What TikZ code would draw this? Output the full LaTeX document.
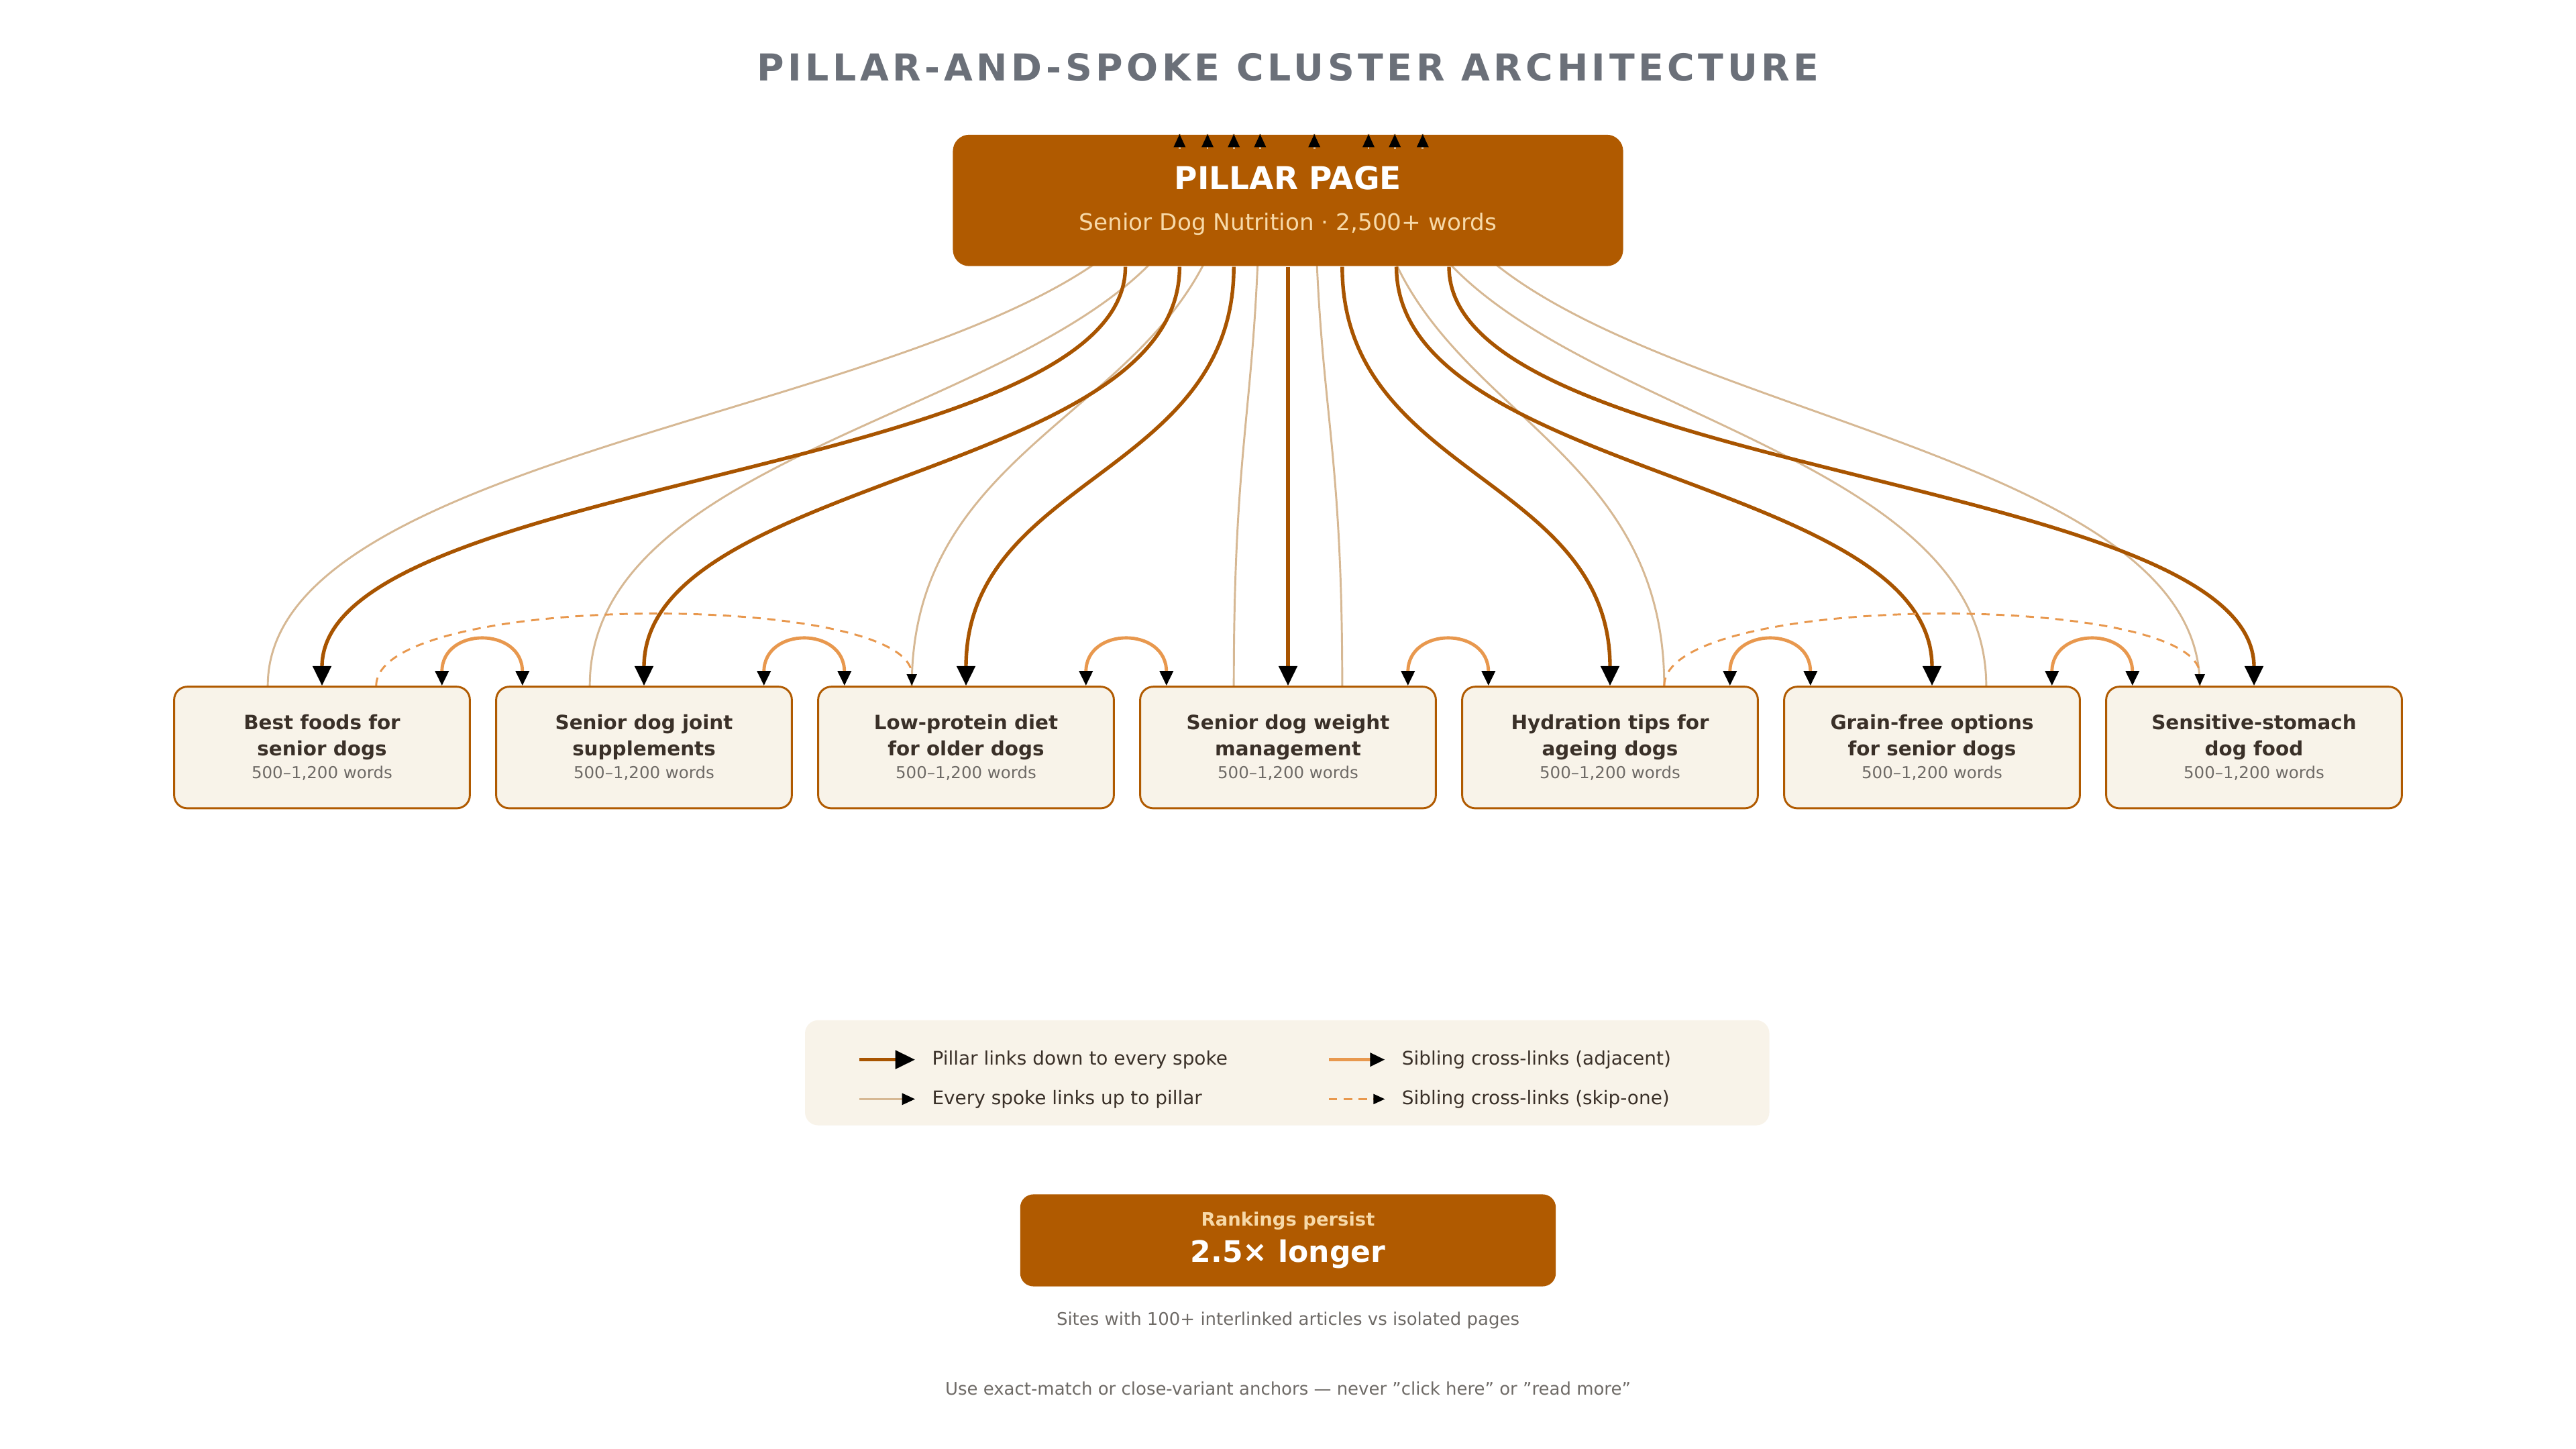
\documentclass[tikz,border=0pt]{standalone}
\usepackage{fontspec}
\setmainfont{DejaVu Sans}
\usetikzlibrary{arrows.meta, positioning}
\pgfdeclarelayer{background}
\pgfsetlayers{background,main}

\definecolor{pillarbrown}{HTML}{B05A00}
\definecolor{downbrown}{HTML}{A85400}
\definecolor{uptan}{HTML}{D6B894}
\definecolor{siborange}{HTML}{E8984E}
\definecolor{cream}{HTML}{F8F3E9}
\definecolor{titlegray}{HTML}{6B7079}
\definecolor{inkdark}{HTML}{3A3028}
\definecolor{wordgray}{HTML}{6E6A66}
\definecolor{palepeach}{HTML}{F7D9A8}

\tikzset{
	spokebox/.style = {draw = pillarbrown, line width = 0.6pt, fill = cream, rounded corners = 4pt,
		minimum width = 90pt, minimum height = 37pt, align = center, text = inkdark,
		font = \fontsize{6}{8}\selectfont\bfseries},
	downlink/.style = {draw = downbrown, line width = 1.1pt, -{Triangle[length = 6pt, width = 5.5pt, color = black]}},
	uplink/.style   = {draw = uptan, line width = 0.6pt},
	uptip/.style    = {-{Triangle[length = 4pt, width = 3.5pt, color = black]}},
	siblink/.style  = {draw = siborange, line width = 1pt,
		{Triangle[length = 4.5pt, width = 4pt, color = black]}-{Triangle[length = 4.5pt, width = 4pt, color = black]}},
	skiplink/.style = {draw = siborange, line width = 0.6pt, dash pattern = on 2.5pt off 2pt,
		-{Triangle[length = 3.5pt, width = 3pt, color = black]}},
	legtext/.style  = {anchor = west, text = inkdark, font = \fontsize{5.7}{7}\selectfont, inner sep = 0pt}
}

\begin{document}
\begin{tikzpicture}[x = 0.5pt, y = -0.5pt]

	% Page frame

	\useasboundingbox (0, 0) rectangle (1568, 882);

	% Title

	\node (title) at (784, 41) {\fontsize{11.3}{13}\selectfont\bfseries\addfontfeatures{LetterSpace = 10}\color{titlegray}PILLAR-AND-SPOKE CLUSTER ARCHITECTURE};

	% Pillar and spokes

	\node (pillar) [fill = pillarbrown, rounded corners = 5pt, minimum width = 204pt, minimum height = 40pt, align = center] at (784, 122)
		{\fontsize{9.6}{10}\selectfont\bfseries\color{white}PILLAR PAGE\\[0.5pt]
		 \fontsize{7}{8}\selectfont\color{palepeach}Senior Dog Nutrition · 2,500+ words};

	\foreach \i/\name in {1/{Best foods for\\senior dogs}, 2/{Senior dog joint\\supplements}, 3/{Low-protein diet\\for older dogs},
		4/{Senior dog weight\\management}, 5/{Hydration tips for\\ageing dogs}, 6/{Grain-free options\\for senior dogs},
		7/{Sensitive-stomach\\dog food}}
	{
		\node (s\i) [spokebox] at (196 + 196 * \i - 196, 455)
			{\name\\[-1pt]
			 \mdseries\fontsize{5}{6}\selectfont\color{wordgray}500–1,200 words};
	}

	% Spokes link up to the pillar

	\begin{pgfonlayer}{background}
		\foreach \s/\from/\to in {1/-16.5/-33, 2/-16.5/-24.5, 3/-16.5/-16.5, 4/-16.5/-8.5, 4/16.5/8, 5/16.5/24.5, 6/16.5/32.5, 7/-16.5/41}
		{
			\draw [uplink] ([xshift = \from pt]s\s.north) .. controls +(0, 83.5pt) and +(0, -83.5pt) .. ([xshift = \to pt]pillar.north);
		}
	\end{pgfonlayer}

	\foreach \to in {-33, -24.5, -16.5, -8.5, 8, 24.5, 32.5, 41}
		\draw [uplink, uptip] ([xshift = \to pt, yshift = -4.5pt]pillar.north) -- ([xshift = \to pt]pillar.north);

	% Pillar links down to every spoke

	\foreach \s/\from in {1/-49.5, 2/-33, 3/-16.5, 4/0, 5/16.5, 6/33, 7/49}
	{
		\draw [downlink] ([xshift = \from pt]pillar.south) .. controls +(0, -63.5pt) and +(0, 63.5pt) .. (s\s.north);
	}

	% Sibling cross-links

	\foreach \a/\b in {1/2, 2/3, 3/4, 4/5, 5/6, 6/7}
	{
		\draw [siblink] ([xshift = 36.5pt]s\a.north) .. controls +(0, 18pt) and +(0, 18pt) .. ([xshift = -37pt]s\b.north);
	}

	\draw [skiplink] ([xshift = 16.5pt]s1.north) .. controls +(0, 28.7pt) and +(0, 28.7pt) .. ([xshift = -16.5pt]s3.north);
	\draw [skiplink] ([xshift = 16.5pt]s5.north) .. controls +(0, 28.7pt) and +(0, 28.7pt) .. ([xshift = -16.5pt]s7.north);

	% Legend

	\node (legend) [fill = cream, rounded corners = 4pt, minimum width = 293.5pt, minimum height = 32pt] at (783.5, 653) {};

	\node (lg1) [legtext] at (567, 645) {Pillar links down to every spoke};
	\node (lg2) [legtext] at (567, 669) {Every spoke links up to pillar};
	\node (lg3) [legtext] at (853, 645) {Sibling cross-links (adjacent)};
	\node (lg4) [legtext] at (853, 669) {Sibling cross-links (skip-one)};

	\draw [downlink] ([xshift = -22pt]lg1.west) -- ([xshift = -5pt]lg1.west);
	\draw [uplink, uptip] ([xshift = -22pt]lg2.west) -- ([xshift = -5pt]lg2.west);
	\draw [draw = siborange, line width = 1pt, -{Triangle[length = 4.5pt, width = 4pt, color = black]}] ([xshift = -22pt]lg3.west) -- ([xshift = -5pt]lg3.west);
	\draw [skiplink] ([xshift = -22pt]lg4.west) -- ([xshift = -5pt]lg4.west);

	% Result

	\node (result) [fill = pillarbrown, rounded corners = 4pt, minimum width = 163pt, minimum height = 28pt, align = center] at (784, 755)
		{\fontsize{5.6}{6}\selectfont\bfseries\color{palepeach}Rankings persist\\[-1pt]
		 \fontsize{9}{9}\selectfont\bfseries\color{white}2.5× longer};

	\node (caption) [below = 4pt of result, text = wordgray, font = \fontsize{5.3}{6}\selectfont] {Sites with 100+ interlinked articles vs isolated pages};

	\node (footer) at (784, 845) [text = wordgray, font = \fontsize{5.3}{6}\selectfont]
		{Use exact-match or close-variant anchors — never \symbol{34}click here\symbol{34} or \symbol{34}read more\symbol{34}};

\end{tikzpicture}
\end{document}
